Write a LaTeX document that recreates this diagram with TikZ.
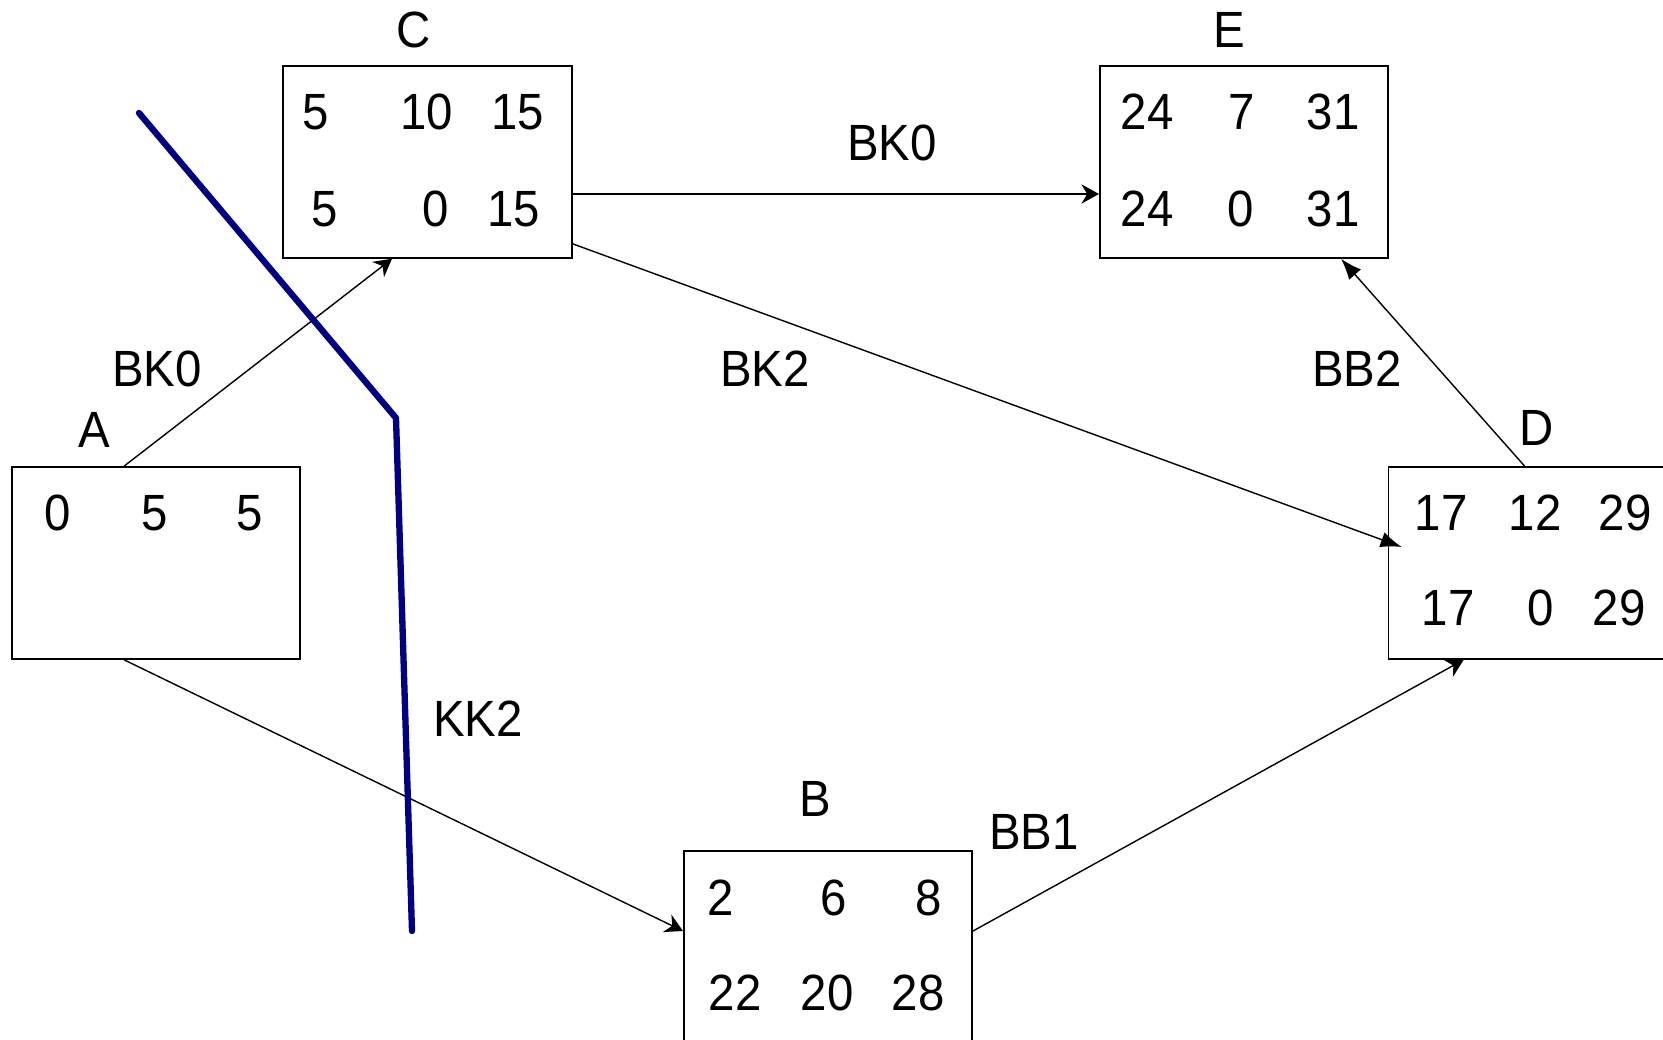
\documentclass[tikz,border=0pt]{standalone}
\usepackage{fontspec}
\setmainfont[FakeStretch=0.93]{Liberation Sans}
\usetikzlibrary{arrows.meta,calc}
\definecolor{cutblue}{RGB}{0,0,128}
\begin{document}
\begin{tikzpicture}[x=0.02cm,y=-0.02cm,
  box/.style={draw, line width=0.9pt, minimum width=5.77cm, minimum height=3.84cm, inner sep=0pt},
  txt/.style={font=\fontsize{29}{34}\selectfont, inner sep=0pt},
  conn/.style={line width=0.8pt, -{Stealth[length=10pt,width=11pt]}},
  connb/.style={line width=0.8pt, -{Latex[length=12pt,width=9pt]}}]
\useasboundingbox (0,0) rectangle (1663,1040);
% boxes
\node[box] (A) at (156,563) {};
\node[box] (C) at (427.5,162) {};
\node[box] (E) at (1244,162) {};
\node[box] (D) at (1532.7,563) {};
\node[box] (B) at (828,947) {};
% box names
\node[txt] (lA) at (94,430) {A};
\node[txt] (lC) at (414,30) {C};
\node[txt] (lE) at (1229,30) {E};
\node[txt] (lD) at (1537,428) {D};
\node[txt] (lB) at (815,799) {B};
% values
\foreach \v/\x/\y [count=\i] in {0/58/513, 5/155/513, 5/250/513}
  \node[txt] (a\i) at (\x,\y) {\v};
\foreach \v/\x/\y [count=\i] in {5/316/112, 10/427/112, 15/518/112, 5/325/209, 0/436/209, 15/514/209}
  \node[txt] (c\i) at (\x,\y) {\v};
\foreach \v/\x/\y [count=\i] in {24/1147/112, 7/1242/112, 31/1333/112, 24/1147/209, 0/1241/209, 31/1333/209}
  \node[txt] (e\i) at (\x,\y) {\v};
\foreach \v/\x/\y [count=\i] in {17/1441/513, 12/1535/513, 29/1625/513, 17/1448/608, 0/1541/608, 29/1619/608}
  \node[txt] (d\i) at (\x,\y) {\v};
\foreach \v/\x/\y [count=\i] in {2/721/898, 6/834/898, 8/929/898, 22/735/993, 20/827/993, 28/918/993}
  \node[txt] (b\i) at (\x,\y) {\v};
% connectors
\draw[conn] ($(A.north)+(-32,0)$) -- ($(C.south)+(-35.5,0)$);
\draw[conn] ($(C.east)+(0,32)$) -- ($(E.west)+(0,32)$);
\draw[connb] ($(C.south east)+(0,-15)$) -- ($(D.west)+(14,-16)$);
\draw[conn] ($(A.south)+(-32,0)$) -- ($(B.west)+(0,-16)$);
\draw[conn] ($(B.east)+(0,-16)$) -- ($(D.south)+(-69,0)$);
\draw[connb] ($(D.north)+(-8,0)$) -- ($(E.south)+(97,0)$);
% edge labels
\node[txt] (bk0a) at (157,369) {BK0};
\node[txt] (bk0b) at (892,143) {BK0};
\node[txt] (bk2) at (765,369) {BK2};
\node[txt] (bb2) at (1357,369) {BB2};
\node[txt] (kk2) at (478,719) {KK2};
\node[txt] (bb1) at (1034,832) {BB1};
% cut line
\draw[cutblue, line width=3.6pt, line cap=round, line join=round] (139,113) -- (396,418) -- (412,931);
\end{tikzpicture}
\end{document}
